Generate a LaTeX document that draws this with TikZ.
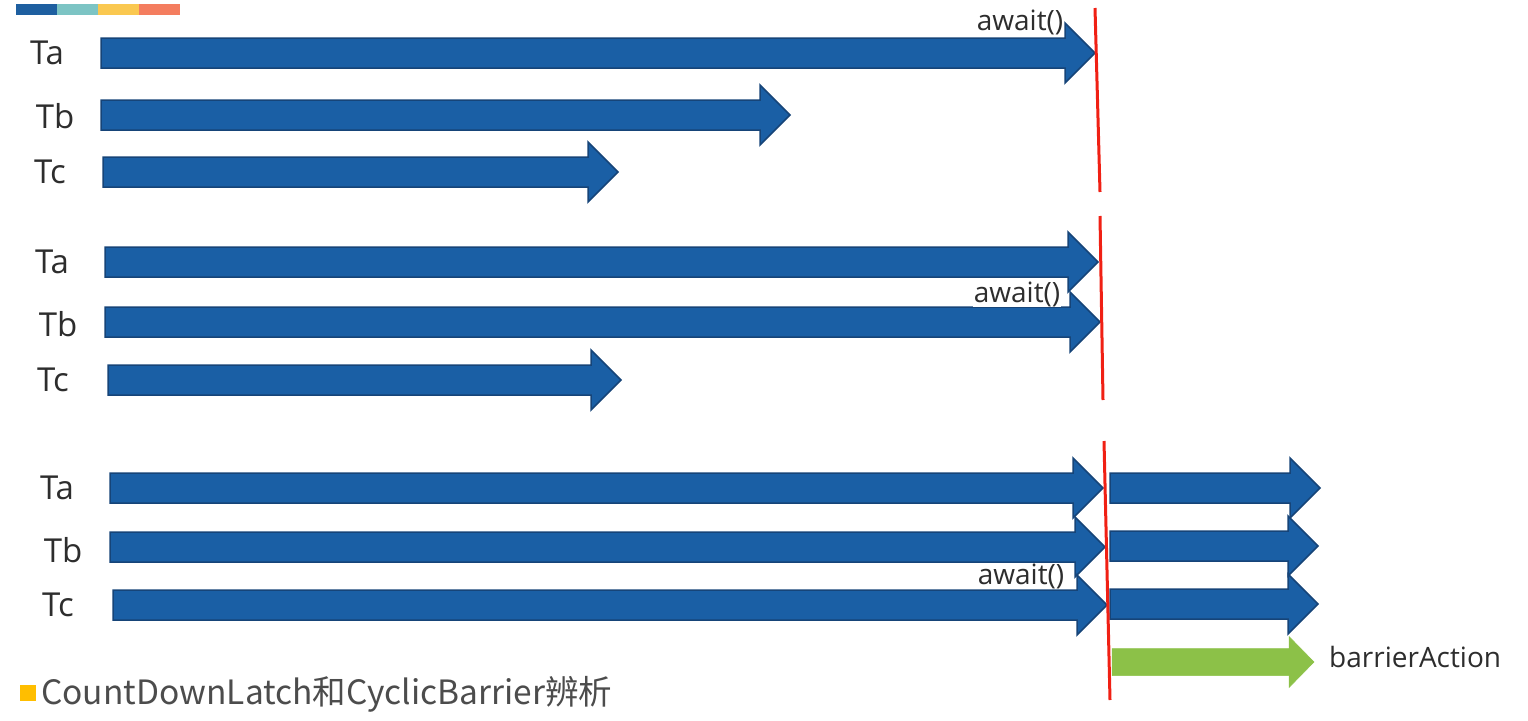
\documentclass[tikz,border=0pt]{standalone}
\usepackage{fontspec}
\setmainfont{Open Sans}
\newfontfamily\cjk{Noto Sans CJK SC}
\definecolor{arrowfill}{RGB}{26,95,165}
\definecolor{arrowedge}{RGB}{22,68,120}
\definecolor{greenfill}{RGB}{140,193,72}
\definecolor{barred}{RGB}{240,32,20}
\definecolor{textgray}{RGB}{45,45,45}
\definecolor{barA}{RGB}{30,95,160}
\definecolor{barB}{RGB}{124,196,196}
\definecolor{barC}{RGB}{250,200,80}
\definecolor{barD}{RGB}{244,125,95}
\definecolor{sq}{RGB}{255,190,0}
% #1 style, #2 name, #3 x0, #4 y, #5 tip x, #6 shaft half, #7 head half, #8 head length
\newcommand\blockarrow[8]{%
  \filldraw[#1] (#3,#4-#6) -- (#5-#8,#4-#6) -- (#5-#8,#4-#7) -- (#5,#4)
    -- (#5-#8,#4+#7) -- (#5-#8,#4+#6) -- (#3,#4+#6) -- cycle;
  \coordinate (#2) at (#5,#4);}
\newcommand\bluearrow[4]{\blockarrow{bluestyle}{#1}{#2}{#3}{#4}{15}{30}{30}}
\begin{document}
\begin{tikzpicture}[x=1pt,y=-1pt,
  bluestyle/.style={fill=arrowfill,draw=arrowedge,line width=1.5pt,line join=miter},
  greenstyle/.style={fill=greenfill,draw=greenfill,line width=0.5pt},
  lab/.style={font=\fontsize{33}{36}\selectfont,text=textgray,inner sep=0pt},
  awt/.style={font=\fontsize{28}{30}\selectfont,text=textgray,fill=white,inner sep=1pt},
  redline/.style={draw=barred,line width=3pt},
  barseg/.style={inner sep=0pt,minimum width=41pt,minimum height=11pt,anchor=north west}]
\useasboundingbox (0,0) rectangle (1528,720);
% colour bar
\node[barseg,fill=barA] (b1) at (16,4) {};
\node[barseg,fill=barB] (b2) at (57,4) {};
\node[barseg,fill=barC] (b3) at (98,4) {};
\node[barseg,fill=barD] (b4) at (139,4) {};
% group 1
\bluearrow{a1}{101}{53}{1095}
\bluearrow{b1t}{101}{115}{790}
\bluearrow{c1}{103}{172}{618}
\node[lab] (la1) at (47,53) {Ta};
\node[lab] (lb1) at (55,116) {Tb};
\node[lab] (lc1) at (50,172) {Tc};
\node[awt] (w1) at (1020,22) {await()};
% group 2
\bluearrow{a2}{105}{262}{1098}
\bluearrow{b2t}{105}{322}{1100}
\bluearrow{c2}{108}{380}{621}
\node[lab] (la2) at (52,262) {Ta};
\node[lab] (lb2) at (58,324) {Tb};
\node[lab] (lc2) at (53,380) {Tc};
\node[awt] (w2) at (1017,294) {await()};
% group 3
\bluearrow{a3}{110}{488}{1103}
\bluearrow{b3t}{110}{547}{1105}
\bluearrow{c3}{113}{605}{1107}
\bluearrow{a4}{1110}{488}{1320}
\bluearrow{b4}{1110}{546}{1318}
\bluearrow{c4}{1110}{604}{1318}
\blockarrow{greenstyle}{g4}{1112}{662}{1314}{13.5}{25.5}{25}
\node[lab] (la3) at (57,488) {Ta};
\node[lab] (lb3) at (63,550) {Tb};
\node[lab] (lc3) at (58,605) {Tc};
\node[awt] (w3) at (1021,576) {await()};
\node[awt,anchor=west,fill=none] (ba) at (1328,657) {barrierAction};
% red barrier lines
\coordinate (r1a) at (1095,8);   \coordinate (r1b) at (1100,192);
\coordinate (r2a) at (1100,216); \coordinate (r2b) at (1103,400);
\coordinate (r3a) at (1104,441); \coordinate (r3b) at (1110,700);
\draw[redline] (r1a) -- (r1b);
\draw[redline] (r2a) -- (r2b);
\draw[redline] (r3a) -- (r3b);
% title
\node[inner sep=0pt,minimum size=16pt,fill=sq,anchor=north west] (sqr) at (20,685) {};
\node[inner sep=0pt,anchor=west,text=textgray!85,font=\cjk\fontsize{33.5}{36}\selectfont] (title) at (41,694) {CountDownLatch和CyclicBarrier辨析};
\end{tikzpicture}
\end{document}
